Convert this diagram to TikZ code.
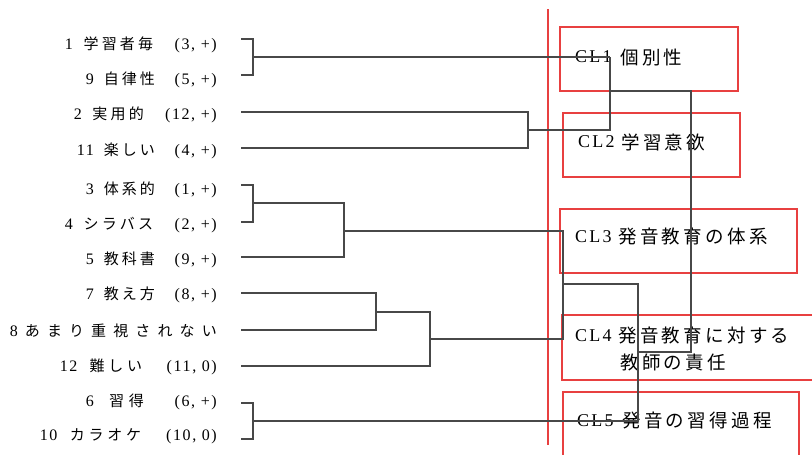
\documentclass[tikz,border=0pt]{standalone}
\usepackage{fontspec}
\setmainfont{Liberation Serif}
\newfontfamily\jp{Noto Sans CJK JP}
\newfontfamily\lat[LetterSpace=10]{Liberation Serif}
\newfontfamily\jpw[LetterSpace=18]{Noto Sans CJK JP}
\newfontfamily\latw[LetterSpace=12]{Liberation Serif}
\definecolor{dred}{RGB}{232,64,64}
\definecolor{dline}{RGB}{72,72,72}
\newcommand\gs{\hskip 0pt plus 0.3fill\relax}
\newcommand\labn[1]{{\lat\fontsize{16}{17}\selectfont #1}}
\newcommand\labj[1]{{\jp\fontsize{15}{16}\selectfont #1}}
\newcommand\lab[4]{\makebox[#1pt][s]{\labn{#2}\hskip 0pt plus 1fill\labj{#3}\hskip 0pt plus 2fill\labn{#4}}}
\newcommand\labx[3]{\makebox[#1pt][s]{\labn{#2}\hfill\labj{#3}}}
\newcommand\cltag[1]{{\latw\fontsize{18}{19}\selectfont #1}}
\newcommand\cltxt[1]{{\jpw\fontsize{18.5}{19}\selectfont #1}}
\begin{document}
\begin{tikzpicture}[x=1pt,y=-1pt,
  den/.style={draw=dline, line width=1.1pt},
  clbox/.style={draw=dred, line width=1.5pt, inner sep=0pt, anchor=north west},
  redline/.style={draw=dred, line width=2pt},
  lbl/.style={anchor=east, inner sep=0pt},
  ctx/.style={anchor=west, inner sep=0pt}]
\useasboundingbox (0,0) rectangle (812,455);
\clip (0,0) rectangle (812,455);

% cluster boxes
\node[clbox, minimum width=178pt, minimum height=64pt] (B1) at (559,26) {};
\node[clbox, minimum width=177pt, minimum height=64pt] (B2) at (562,112) {};
\node[clbox, minimum width=237pt, minimum height=64pt] (B3) at (559,208) {};
\node[clbox, minimum width=254pt, minimum height=65pt] (B4) at (561,314) {};
\node[clbox, minimum width=236pt, minimum height=72pt] (B5) at (562,391) {};

% box texts
\node[ctx] (t1a) at (575,57) {\cltag{CL1}};
\node[ctx] (t1b) at (620,57) {\cltxt{個別性}};
\node[ctx] (t2a) at (578,142) {\cltag{CL2}};
\node[ctx] (t2b) at (621,142) {\cltxt{学習意欲}};
\node[ctx] (t3a) at (575,237) {\cltag{CL3}};
\node[ctx] (t3b) at (618,237) {\cltxt{発音教育の体系}};
\node[ctx] (t4a) at (575,336) {\cltag{CL4}};
\node[ctx] (t4b) at (618,336) {\cltxt{発音教育に対する}};
\node[ctx] (t4c) at (620,362) {\cltxt{教師の責任}};
\node[ctx] (t5a) at (577,421) {\cltag{CL5}};
\node[ctx] (t5b) at (622,421) {\cltxt{発音の習得過程}};

% leaf labels
\node[lbl] (n1)  at (217,45)  {\lab{152}{1}{学\gs 習\gs 者\gs 毎}{(3,~+)}};
\node[lbl] (n9)  at (217,80)  {\lab{131}{9}{自\gs 律\gs 性}{(5,~+)}};
\node[lbl] (n2)  at (217,115) {\lab{143}{2}{実\gs 用\gs 的}{(12,~+)}};
\node[lbl] (n11) at (217,151) {\lab{140}{11}{楽\gs し\gs い}{(4,~+)}};
\node[lbl] (n3)  at (217,190) {\lab{131}{3}{体\gs 系\gs 的}{(1,~+)}};
\node[lbl] (n4)  at (217,225) {\lab{152}{4}{シ\gs ラ\gs バ\gs ス}{(2,~+)}};
\node[lbl] (n5)  at (217,260) {\lab{131}{5}{教\gs 科\gs 書}{(9,~+)}};
\node[lbl] (n7)  at (217,295) {\lab{131}{7}{教\gs え\gs 方}{(8,~+)}};
\node[lbl] (n8)  at (217,331) {\labx{207}{8}{あ\hfill ま\hfill り\hfill 重\hfill 視\hfill さ\hfill れ\hfill な\hfill い}};
\node[lbl] (n12) at (217,367) {\lab{157}{12}{難\gs し\gs い}{(11,~0)}};
\node[lbl] (n6)  at (217,402) {\lab{131}{6}{習\gs 得}{(6,~+)}};
\node[lbl] (n10) at (217,436) {\lab{177}{10}{カ\gs ラ\gs オ\gs ケ}{(10,~0)}};

% red separator
\coordinate (r1) at (548,9);
\coordinate (r2) at (548,445);
\draw[redline] (r1) -- (r2);

% leaf line ends
\coordinate (l1)  at (241,39);
\coordinate (l9)  at (241,75);
\coordinate (l2)  at (241,112);
\coordinate (l11) at (241,148);
\coordinate (l3)  at (241,185);
\coordinate (l4)  at (241,222);
\coordinate (l5)  at (241,257);
\coordinate (l7)  at (241,293);
\coordinate (l8)  at (241,330);
\coordinate (l12) at (241,366);
\coordinate (l6)  at (241,403);
\coordinate (l10) at (241,439);
% junctions
\coordinate (a)  at (253,57);
\coordinate (b)  at (528,130);
\coordinate (j1) at (610,57);
\coordinate (k1) at (610,91);
\coordinate (k2) at (691,352);
\coordinate (k3) at (638,352);
\coordinate (c)  at (253,203);
\coordinate (cm) at (344,231);
\coordinate (d1) at (376,312);
\coordinate (d2) at (430,339);
\coordinate (e)  at (563,284);
\coordinate (g)  at (253,421);

\draw[den] (l1) -| (a) |- (l9);
\draw[den] (a) -- (j1);
\draw[den] (l2) -| (b) |- (l11);
\draw[den] (b) -| (j1);
\draw[den] (k1) -| (k2) -- (k3);
\draw[den] (l3) -| (c) |- (l4);
\draw[den] (c) -| (cm) |- (l5);
\draw[den] (cm) -| (e);
\draw[den] (l7) -| (d1) |- (l8);
\draw[den] (d1) -| (d2) |- (l12);
\draw[den] (d2) -| (e);
\draw[den] (e) -| (k3);
\draw[den] (l6) -| (g) |- (l10);
\draw[den] (g) -| (k3);
\end{tikzpicture}
\end{document}
